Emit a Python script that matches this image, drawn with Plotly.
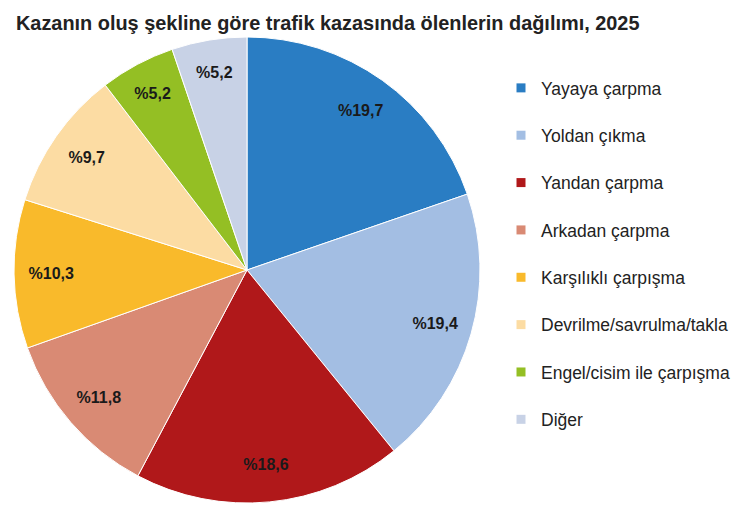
import plotly.graph_objects as go

categories = ["Yayaya çarpma", "Yoldan çıkma", "Yandan çarpma", "Arkadan çarpma",
              "Karşılıklı çarpışma", "Devrilme/savrulma/takla",
              "Engel/cisim ile çarpışma", "Diğer"]
values = [19.7, 19.4, 18.6, 11.8, 10.3, 9.7, 5.2, 5.2]
colors = ["#2A7DC3", "#A3BEE3", "#B0181A", "#D98A74", "#F9BA2B", "#FCDCA3", "#94BF24", "#C8D2E6"]

FONT = "Liberation Sans, Arial, sans-serif"
W, H = 750, 517

fig = go.Figure()
cx, cy, r = 239, 262, 233
domain = dict(x=[(cx - r) / W, (cx + r) / W], y=[1 - (cy + r) / H, 1 - (cy - r) / H])
fig.add_trace(go.Pie(
    labels=categories, values=values, sort=False, direction="clockwise", rotation=0,
    marker=dict(colors=colors, line=dict(color="white", width=1)),
    textinfo="none", showlegend=False, hoverinfo="label+value", domain=domain,
))
# label layer: transparent ring so the value labels sit near the rim
fig.add_trace(go.Pie(
    labels=categories, values=values, sort=False, direction="clockwise", rotation=0,
    hole=0.68,
    marker=dict(colors=["rgba(0,0,0,0)"] * len(values), line=dict(width=0)),
    texttemplate="%%{value:.1f}", textposition="inside", insidetextorientation="horizontal",
    textfont=dict(family=FONT, size=16, color="#1a1a1a", weight="bold"),
    showlegend=False, hoverinfo="skip", domain=domain,
))

for i, (c, col) in enumerate(zip(categories, colors)):
    fig.add_trace(go.Scatter(
        x=[None], y=[None], mode="markers", name=c, legendgroup=str(i),
        marker=dict(symbol="square", size=9, color=col), showlegend=True,
    ))

fig.update_layout(
    width=W, height=H, separators=",.",
    margin=dict(l=0, r=0, t=0, b=0),
    paper_bgcolor="white", plot_bgcolor="white",
    font=dict(family=FONT, color="#222"),
    title=dict(text="<b>Kazanın oluş şekline göre trafik kazasında ölenlerin dağılımı, 2025</b>",
               x=8 / W, xanchor="left", y=1 - 15 / H, yanchor="middle",
               font=dict(family=FONT, size=19.9, color="#222")),
    xaxis=dict(visible=False), yaxis=dict(visible=False),
    legend=dict(x=493 / W, xanchor="left", y=1 - 62 / H, yanchor="top",
                font=dict(family=FONT, size=17.5, color="#222"),
                tracegroupgap=21.6, itemwidth=30, bgcolor="rgba(0,0,0,0)"),
)
fig.write_html("out.html")
